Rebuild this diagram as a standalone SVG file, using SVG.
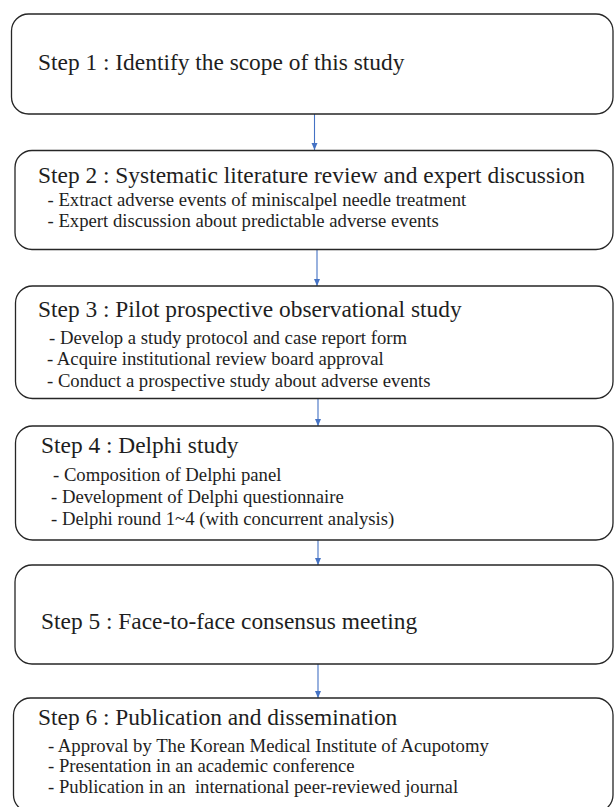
<svg xmlns="http://www.w3.org/2000/svg" width="614" height="807" viewBox="0 0 614 807">
<style>
.box{fill:#fff;stroke:#262626;stroke-width:1.3}
.t{font-family:"Liberation Serif","Times New Roman",serif;font-size:23.4px;fill:#1e1e1e}
.s{font-family:"Liberation Serif","Times New Roman",serif;font-size:18.7px;fill:#1e1e1e;white-space:pre}
.c{stroke:#4472C4;stroke-width:1.1;fill:none}
</style>
<defs>
<marker id="ah" markerWidth="8" markerHeight="8" refX="7" refY="4" orient="auto" markerUnits="userSpaceOnUse">
<path d="M0,1 L7,4 L0,7 Z" fill="#4472C4"/>
</marker>
</defs>
<rect width="614" height="807" fill="#fff"/>
<g id="connectors">
<line class="c" x1="314.5" y1="114" x2="314.5" y2="150" marker-end="url(#ah)"/>
<line class="c" x1="317" y1="249.5" x2="317" y2="286" marker-end="url(#ah)"/>
<line class="c" x1="318" y1="398.5" x2="318" y2="426" marker-end="url(#ah)"/>
<line class="c" x1="318" y1="540" x2="318" y2="565" marker-end="url(#ah)"/>
<line class="c" x1="318" y1="664" x2="318" y2="698" marker-end="url(#ah)"/>
</g>
<g id="step1">
<rect class="box" x="11.5" y="14" width="601.5" height="100" rx="17"/>
<text class="t" x="38" y="70">Step 1 : Identify the scope of this study</text>
</g>
<g id="step2">
<rect class="box" x="15" y="150.5" width="598" height="99" rx="17"/>
<text class="t" x="38" y="183">Step 2 : Systematic literature review and expert discussion</text>
<text class="s" x="47.5" y="205.5">- Extract adverse events of miniscalpel needle treatment</text>
<text class="s" x="47.5" y="227">- Expert discussion about predictable adverse events</text>
</g>
<g id="step3">
<rect class="box" x="15.5" y="286" width="597.5" height="112.5" rx="17"/>
<text class="t" x="38" y="316.5">Step 3 : Pilot prospective observational study</text>
<text class="s" x="49" y="344">- Develop a study protocol and case report form</text>
<text class="s" x="47" y="365.3">- Acquire institutional review board approval</text>
<text class="s" x="47" y="386.7">- Conduct a prospective study about adverse events</text>
</g>
<g id="step4">
<rect class="box" x="15.5" y="426" width="597.5" height="114" rx="17"/>
<text class="t" x="41" y="453.3">Step 4 : Delphi study</text>
<text class="s" x="53" y="480.7">- Composition of Delphi panel</text>
<text class="s" x="51" y="503.3">- Development of Delphi questionnaire</text>
<text class="s" x="51" y="525">- Delphi round 1~4 (with concurrent analysis)</text>
</g>
<g id="step5">
<rect class="box" x="15" y="565" width="598" height="99" rx="17"/>
<text class="t" x="41" y="629">Step 5 : Face-to-face consensus meeting</text>
</g>
<g id="step6">
<rect class="box" x="13.5" y="698" width="599.5" height="114" rx="17"/>
<text class="t" x="38" y="725">Step 6 : Publication and dissemination</text>
<text class="s" x="48" y="751.7">- Approval by The Korean Medical Institute of Acupotomy</text>
<text class="s" x="48" y="771.7">- Presentation in an academic conference</text>
<text class="s" x="48" y="793.3" xml:space="preserve">- Publication in an  international peer-reviewed journal</text>
</g>
</svg>
